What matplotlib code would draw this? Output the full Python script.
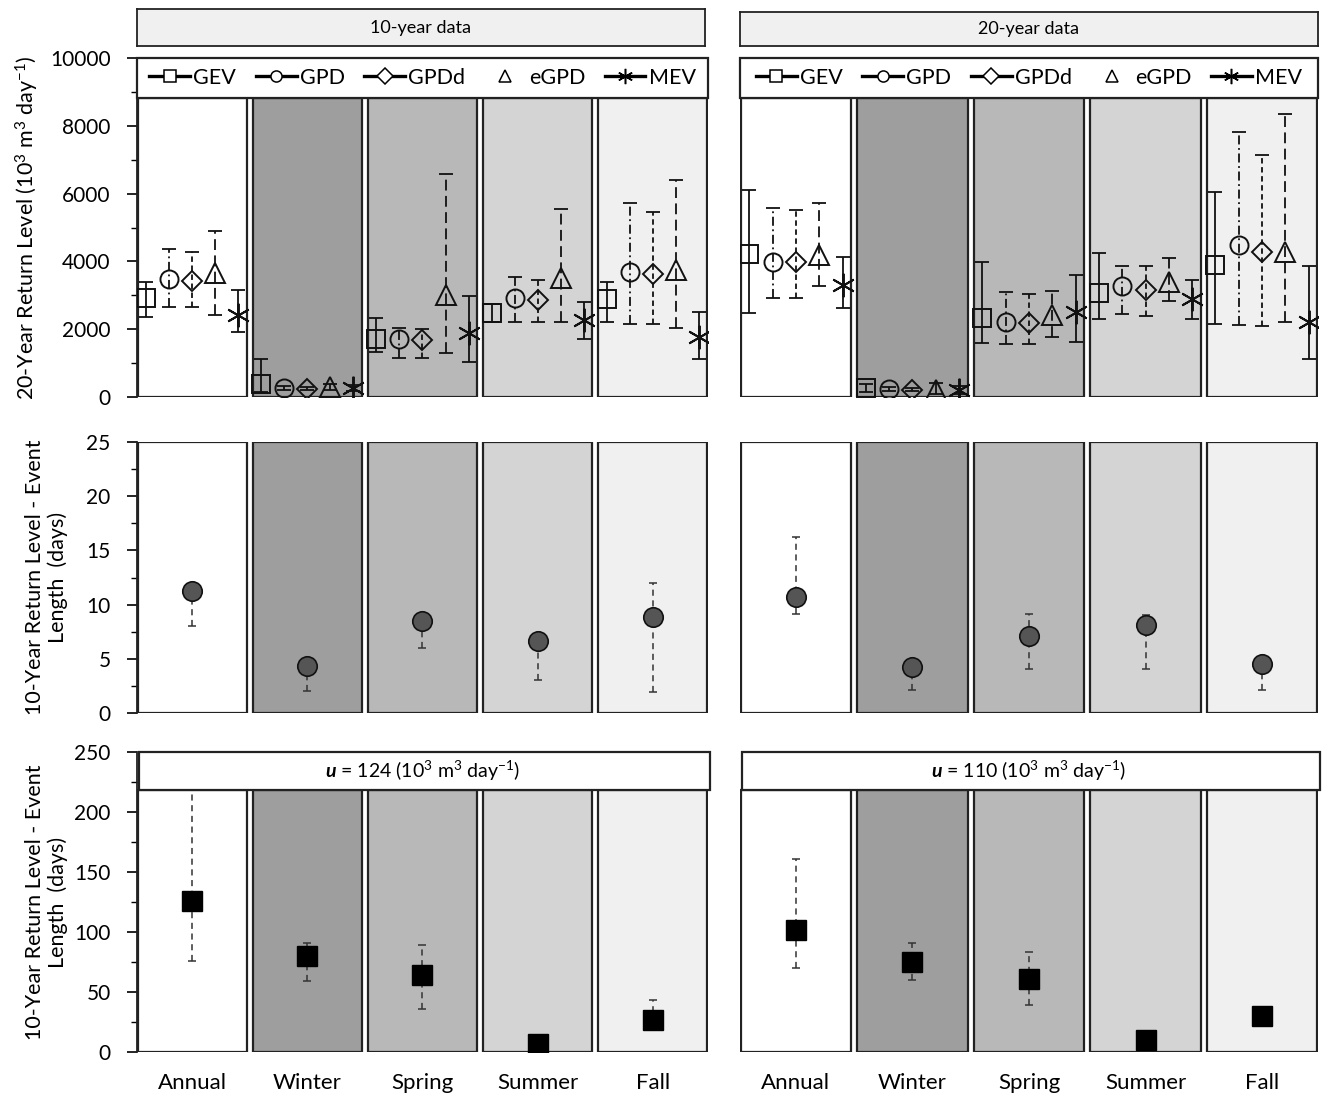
import numpy as np
import matplotlib
matplotlib.use("Agg")
import matplotlib.pyplot as plt
from matplotlib.lines import Line2D
from matplotlib.patches import Rectangle

plt.rcParams['font.family'] = ['Lato', 'DejaVu Sans']
plt.rcParams['mathtext.fontset'] = 'custom'
plt.rcParams['mathtext.rm'] = 'Lato'
plt.rcParams['mathtext.it'] = 'Lato:italic'
plt.rcParams['mathtext.bf'] = 'Lato:bold'
try:
    plt.rcParams['mathtext.bfit'] = 'Lato:italic:bold'
except KeyError:
    pass

seasons = ["Annual", "Winter", "Spring", "Summer", "Fall"]
models = ["GEV", "GPD", "GPDd", "eGPD", "MEV"]
season_colors = ["#ffffff", "#9e9e9e", "#b8b8b8", "#d4d4d4", "#f0f0f0"]

# 20-year return level, 10-year data (rows: GEV, GPD, GPDd, eGPD, MEV)
rl10_val = [[2920, 380, 1700, 2470, 2880],
            [3470, 260, 1700, 2910, 3700],
            [3430, 250, 1680, 2860, 3640],
            [3650, 300, 3010, 3510, 3760],
            [2420, 260, 1880, 2270, 1780]]
rl10_lo = [[2370, 150, 1330, 2200, 2200],
           [2660, 200, 1160, 2200, 2150],
           [2660, 200, 1160, 2200, 2150],
           [2420, 220, 1290, 2200, 2050],
           [1920, 180, 1040, 1720, 1110]]
rl10_hi = [[3400, 1120, 2330, 2740, 3390],
           [4360, 320, 2040, 3530, 5730],
           [4280, 300, 2020, 3450, 5470],
           [4900, 380, 6580, 5560, 6400],
           [3160, 340, 2990, 2810, 2500]]

# 20-year return level, 20-year data
rl20_val = [[4210, 260, 2320, 3060, 3890],
            [3990, 230, 2220, 3280, 4470],
            [3990, 220, 2190, 3160, 4290],
            [4190, 200, 2420, 3400, 4290],
            [3300, 200, 2500, 2890, 2220]]
rl20_lo = [[2480, 150, 1590, 2300, 2150],
           [2930, 170, 1560, 2440, 2120],
           [2930, 170, 1560, 2390, 2080],
           [3280, 100, 1760, 2820, 2200],
           [2620, 100, 1630, 2300, 1130]]
rl20_hi = [[6100, 380, 3990, 4250, 6060],
           [5580, 290, 3090, 3870, 7810],
           [5530, 280, 3040, 3870, 7140],
           [5730, 420, 3130, 4110, 8340],
           [4140, 330, 3600, 3450, 3850]]

# 10-year return level of event length (days), flow-based events
ev10_val = [11.3, 4.3, 8.5, 6.65, 8.9]
ev10_lo = [8.0, 2.0, 6.0, 3.07, 1.93]
ev10_hi = [11.3, 4.3, 8.5, 6.65, 12.0]
ev20_val = [10.7, 4.2, 7.1, 8.1, 4.5]
ev20_lo = [9.1, 2.1, 4.1, 4.1, 2.1]
ev20_hi = [16.2, 5.0, 9.1, 9.0, 4.5]

# 10-year return level of event length (days), threshold-based events
len10_val = [125.6, 79.7, 64.5, 7.0, 27.0]
len10_lo = [75.6, 59.0, 35.6, 7.0, 24.0]
len10_hi = [230.0, 91.0, 89.0, 7.0, 43.7]
len20_val = [101.4, 75.0, 61.1, 9.7, 29.7]
len20_lo = [70.3, 60.3, 39.0, 9.7, 22.0]
len20_hi = [161.0, 91.0, 83.3, 9.7, 37.5]

u_labels = ["124", "110"]
strip_titles = ["10-year data", "20-year data"]

offsets = [-0.4, -0.2, 0.0, 0.2, 0.4]
markers = ['s', 'o', 'D', '^', (6, 2, 0)]
msizes = [13, 13, 10, 14, 17]
err_styles = ['-', (0, (5, 2, 1, 2)), (0, (3, 2)), (0, (6, 3)), '-']

fig = plt.figure(figsize=(13.25, 11.07), dpi=100)
W, H = 1325.0, 1107.0


def axes_px(x0, x1, ytop, ybot):
    return fig.add_axes([x0 / W, 1 - ybot / H, (x1 - x0) / W, (ybot - ytop) / H])


def draw_panels(ax, top):
    for i, c in enumerate(season_colors):
        ax.add_patch(Rectangle((i - 0.475, 0), 0.95, top, facecolor=c,
                               edgecolor='#222222', lw=1.6, zorder=1))


def style_axis(ax, ylim, major, minor, left):
    ax.set_xlim(-0.48, 4.48)
    ax.set_ylim(*ylim)
    for s in ['top', 'right', 'bottom']:
        ax.spines[s].set_visible(False)
    ax.set_facecolor('none')
    if left:
        ax.spines['left'].set_color('#222222')
        ax.spines['left'].set_linewidth(1.3)
        ax.set_yticks(np.arange(ylim[0], ylim[1] + 0.1, major))
        ax.set_yticks(np.arange(ylim[0], ylim[1] + 0.1, minor), minor=True)
        ax.tick_params(axis='y', which='major', length=7, width=1.2, labelsize=15, pad=12)
        ax.tick_params(axis='y', which='minor', length=4, width=1.0)
    else:
        ax.spines['left'].set_visible(False)
        ax.set_yticks([])
    ax.set_xticks([])


col_x = [(137, 708), (740, 1318)]

# top row
for k in range(2):
    ax = axes_px(col_x[k][0], col_x[k][1], 58, 397)
    style_axis(ax, (0, 10000), 2000, 1000, k == 0)
    draw_panels(ax, 8820)
    val = rl10_val if k == 0 else rl20_val
    lo = rl10_lo if k == 0 else rl20_lo
    hi = rl10_hi if k == 0 else rl20_hi
    for j in range(5):
        x = np.arange(5) + offsets[j]
        v = np.array(val[j])
        yerr = [v - np.array(lo[j]), np.array(hi[j]) - v]
        eb = ax.errorbar(x, v, yerr=yerr, fmt='none', ecolor='#111111',
                         elinewidth=1.3, capsize=5, capthick=1.3, zorder=3)
        eb[2][0].set_linestyle(err_styles[j])
        ax.plot(x, v, linestyle='none', marker=markers[j], ms=msizes[j],
                mfc='none', mec='#111111', mew=1.4, zorder=4)
    ax.add_patch(Rectangle((-0.48, 8820), 4.96, 1180, facecolor='white',
                           edgecolor='#222222', lw=1.6, zorder=5, clip_on=False))
    handles = []
    for j in range(5):
        handles.append(Line2D([0], [0], color='k', lw=2.4,
                              linestyle='none' if j == 3 else '-',
                              marker=markers[j], ms=8 if j != 4 else 11,
                              mfc='white', mec='k', mew=1.1))
    leg = ax.legend(handles, models, loc='center', bbox_to_anchor=(0.5, 0.941),
                    ncol=5, frameon=False, fontsize=15.5, handlelength=1.9,
                    handletextpad=0.15, columnspacing=0.9, borderpad=0)
    leg.set_zorder(6)
    if k == 0:
        ax.set_ylabel(r"20-Year Return Level (10$^3$ m$^3$ day$^{-1}$)", fontsize=15.5)
        ax.yaxis.set_label_coords(-0.168, 0.5)
    # strip title
    sa = axes_px(col_x[k][0], col_x[k][1] - (3 if k == 0 else 0), 9 if k == 0 else 12, 46)
    sa.set_facecolor('#f0f0f0')
    sa.set_xticks([])
    sa.set_yticks([])
    for s in sa.spines.values():
        s.set_color('#222222')
        s.set_linewidth(1.3)
    sa.text(0.5, 0.5, strip_titles[k], ha='center', va='center', fontsize=13,
            transform=sa.transAxes)

# middle row
for k in range(2):
    ax = axes_px(col_x[k][0], col_x[k][1], 442, 713)
    style_axis(ax, (0, 25), 5, 2.5, k == 0)
    draw_panels(ax, 25)
    v = np.array(ev10_val if k == 0 else ev20_val)
    lo = np.array(ev10_lo if k == 0 else ev20_lo)
    hi = np.array(ev10_hi if k == 0 else ev20_hi)
    eb = ax.errorbar(np.arange(5), v, yerr=[v - lo, hi - v], fmt='none',
                     ecolor='#333333', elinewidth=1.1, capsize=3, capthick=1.1, zorder=3)
    eb[2][0].set_linestyle((0, (4, 3)))
    ax.plot(np.arange(5), v, linestyle='none', marker='o', ms=14,
            mfc='#555555', mec='#111111', mew=1.2, zorder=4)
    if k == 0:
        ax.set_ylabel("10-Year Return Level - Event\nLength  (days)", fontsize=15.5)
        ax.yaxis.set_label_coords(-0.12, 0.5)

# bottom row
for k in range(2):
    ax = axes_px(col_x[k][0], col_x[k][1], 752, 1052)
    style_axis(ax, (0, 250), 50, 25, k == 0)
    draw_panels(ax, 218)
    v = np.array(len10_val if k == 0 else len20_val)
    lo = np.array(len10_lo if k == 0 else len20_lo)
    hi = np.array(len10_hi if k == 0 else len20_hi)
    eb = ax.errorbar(np.arange(5), v, yerr=[v - lo, hi - v], fmt='none',
                     ecolor='#333333', elinewidth=1.1, capsize=3, capthick=1.1, zorder=3)
    eb[2][0].set_linestyle((0, (4, 3)))
    ax.plot(np.arange(5), v, linestyle='none', marker='s', ms=14,
            mfc='black', mec='black', zorder=4)
    ax.add_patch(Rectangle((-0.46, 218), 4.96, 32, facecolor='white',
                           edgecolor='#222222', lw=1.6, zorder=5, clip_on=False))
    ax.text(2.0, 234, r"$\mathbfit{u}$ = " + u_labels[k] + r" (10$^3$ m$^3$ day$^{-1}$)",
            ha='center', va='center', fontsize=14, zorder=6)
    ax.set_xticks(np.arange(5))
    ax.set_xticklabels(seasons, fontsize=16)
    ax.tick_params(axis='x', length=0, pad=15)
    if k == 0:
        ax.set_ylabel("10-Year Return Level - Event\nLength  (days)", fontsize=15.5)
        ax.yaxis.set_label_coords(-0.12, 0.5)

fig.savefig("out.png", dpi=100)
